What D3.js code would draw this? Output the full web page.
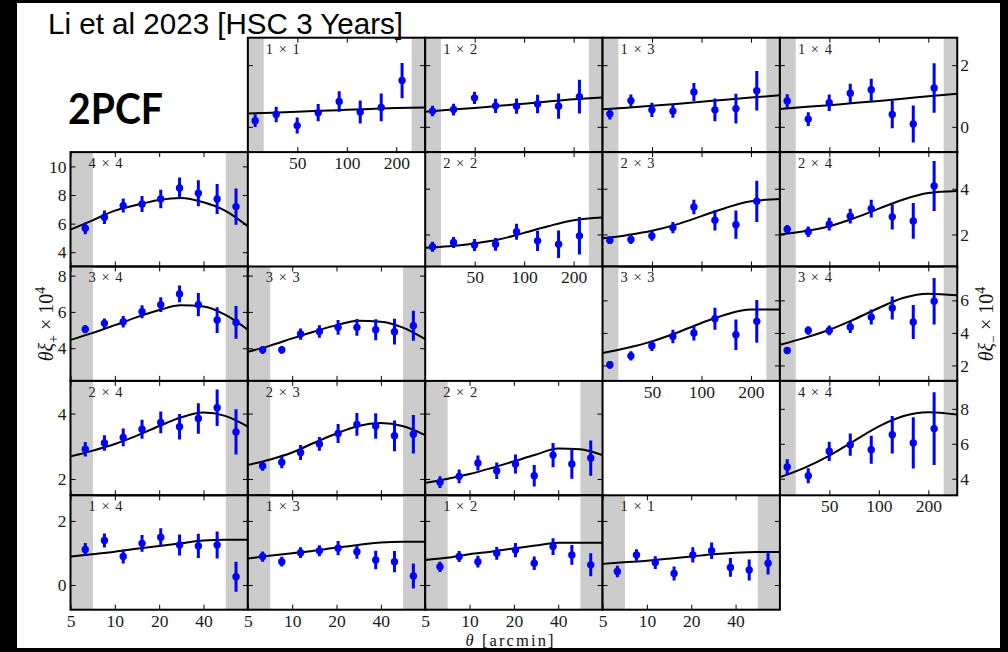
<!DOCTYPE html>
<html>
<head>
<meta charset="utf-8">
<script src="https://cdn.jsdelivr.net/npm/d3@7"></script>
<style>
  body { margin: 0; background: #fff; }
  svg { display: block; }
</style>
</head>
<body>
<svg id="chart" width="1008" height="652"></svg>
<script>
// ---- angular bins (arcmin) ----
const thetaPlus = [6.3, 8.5, 11.4, 15.3, 20.5, 27.5, 36.9, 49.5, 66.5];
const thetaMinus = [27.7, 37.2, 49.9, 67.0, 89.9, 120.7, 162, 217];
const modelThetaPlus = [5, 7, 10, 14, 20, 28, 40, 56, 80];
const modelThetaMinus = [25, 35, 50, 70, 100, 140, 200, 300];
const rangePlus = [5, 80];
const rangeMinus = [25, 300];
const cutsPlus = [7.1, 56.6];
const cutsMinus = [31.2, 248];
const xTicksPlus = [5, 10, 20, 40];
const xTicksMinus = [50, 100, 200];

// ---- y ranges per row ----
const yDomainPlus = [null, [3, 11], [2.2, 8.5], [1.5, 5], [-0.77, 2.8]];
const yTicksPlus = [null, [4, 6, 8, 10], [4, 6, 8], [2, 4], [0, 2]];
const yDomainMinus = [[-0.82, 2.89], [0.6, 5.6], [1.05, 8.08], [3.05, 9.6]];
const yTicksMinus = [[0, 2], [2, 4], [2, 4, 6], [4, 6, 8]];

// ---- theta * xi_+ * 1e4 : measurements, errors, model ----
const xip44 = [5.67, 6.44, 7.26, 7.37, 7.72, 8.49, 8.12, 7.72, 7.19];
const xip44Err = [0.41, 0.47, 0.49, 0.56, 0.64, 0.73, 0.91, 1.05, 1.27];
const xip44Model = [5.58, 6.21, 6.91, 7.30, 7.65, 7.79, 7.49, 6.91, 5.81];

const xip34 = [5.05, 5.37, 5.46, 6.01, 6.40, 6.99, 6.40, 5.55, 5.42];
const xip34Err = [0.23, 0.26, 0.32, 0.36, 0.40, 0.46, 0.64, 0.71, 0.90];
const xip34Model = [4.46, 4.83, 5.27, 5.70, 6.10, 6.36, 6.30, 5.85, 5.02];

const xip33 = [3.91, 3.91, 4.78, 4.92, 5.15, 5.15, 5.02, 4.91, 5.24];
const xip33Err = [0.21, 0.21, 0.31, 0.35, 0.41, 0.46, 0.58, 0.71, 0.83];
const xip33Model = [3.80, 4.13, 4.54, 4.91, 5.27, 5.51, 5.46, 5.15, 4.50];

const xip24 = [2.91, 3.10, 3.27, 3.52, 3.73, 3.60, 3.85, 4.18, 3.44];
const xip24Err = [0.22, 0.24, 0.27, 0.29, 0.33, 0.39, 0.47, 0.56, 0.69];
const xip24Model = [2.69, 2.86, 3.07, 3.32, 3.62, 3.88, 4.03, 3.93, 3.60];

const xip23 = [2.40, 2.51, 2.81, 3.07, 3.39, 3.67, 3.62, 3.32, 3.37];
const xip23Err = [0.15, 0.18, 0.23, 0.21, 0.29, 0.35, 0.39, 0.47, 0.59];
const xip23Model = [2.43, 2.59, 2.81, 3.10, 3.39, 3.62, 3.71, 3.62, 3.34];

const xip22 = [1.90, 2.08, 2.49, 2.25, 2.46, 2.10, 2.73, 2.46, 2.64];
const xip22Err = [0.18, 0.21, 0.23, 0.25, 0.29, 0.33, 0.37, 0.45, 0.54];
const xip22Model = [1.88, 2.00, 2.15, 2.33, 2.54, 2.74, 2.93, 2.91, 2.73];

const xip14 = [1.11, 1.39, 0.89, 1.30, 1.49, 1.25, 1.22, 1.25, 0.26];
const xip14Err = [0.20, 0.22, 0.22, 0.26, 0.28, 0.33, 0.38, 0.42, 0.47];
const xip14Model = [0.89, 0.96, 1.04, 1.13, 1.22, 1.30, 1.39, 1.41, 1.41];

const xip13 = [0.89, 0.73, 1.01, 1.07, 1.15, 1.04, 0.78, 0.73, 0.28];
const xip13Err = [0.16, 0.15, 0.17, 0.17, 0.22, 0.22, 0.29, 0.33, 0.39];
const xip13Model = [0.83, 0.91, 0.99, 1.07, 1.17, 1.25, 1.33, 1.35, 1.35];

const xip12 = [0.57, 0.89, 0.73, 0.99, 1.09, 0.68, 1.20, 0.94, 0.63];
const xip12Err = [0.16, 0.17, 0.18, 0.20, 0.22, 0.21, 0.26, 0.31, 0.36];
const xip12Model = [0.78, 0.85, 0.96, 1.04, 1.14, 1.23, 1.32, 1.32, 1.32];

const xip11 = [0.42, 0.94, 0.70, 0.36, 0.94, 1.07, 0.55, 0.47, 0.68];
const xip11Err = [0.18, 0.18, 0.20, 0.22, 0.24, 0.26, 0.29, 0.33, 0.35];
const xip11Model = [0.66, 0.71, 0.76, 0.82, 0.89, 0.96, 1.01, 1.03, 1.03];

// ---- theta * xi_- * 1e4 : measurements, errors, model ----
const xim11 = [0.20, 0.40, 0.04, 0.46, 0.82, 0.48, 0.63, 1.50];
const xim11Err = [0.21, 0.25, 0.26, 0.28, 0.33, 0.37, 0.45, 0.57];
const xim11Model = [0.43, 0.46, 0.49, 0.52, 0.55, 0.58, 0.61, 0.63];

const xim12 = [0.51, 0.56, 0.94, 0.68, 0.67, 0.74, 0.67, 0.98];
const xim12Err = [0.17, 0.19, 0.20, 0.23, 0.25, 0.30, 0.41, 0.55];
const xim12Model = [0.49, 0.55, 0.61, 0.68, 0.75, 0.82, 0.89, 0.95];

const xim13 = [0.42, 0.85, 0.55, 0.51, 1.13, 0.55, 0.59, 1.17];
const xim13Err = [0.18, 0.20, 0.23, 0.22, 0.29, 0.37, 0.48, 0.64];
const xim13Model = [0.57, 0.62, 0.68, 0.74, 0.81, 0.88, 0.95, 1.02];

const xim14 = [0.84, 0.25, 0.78, 1.09, 1.20, 0.40, 0.09, 1.26];
const xim14Err = [0.22, 0.22, 0.27, 0.31, 0.36, 0.45, 0.60, 0.80];
const xim14Model = [0.58, 0.64, 0.70, 0.77, 0.84, 0.91, 0.99, 1.07];

const xim22 = [1.46, 1.65, 1.54, 1.57, 2.12, 1.72, 1.57, 1.94];
const xim22Err = [0.22, 0.24, 0.26, 0.28, 0.35, 0.44, 0.60, 0.82];
const xim22Model = [1.42, 1.49, 1.61, 1.78, 2.07, 2.36, 2.62, 2.74];

const xim23 = [1.75, 1.78, 1.94, 2.30, 3.20, 2.62, 2.43, 3.45];
const xim23Err = [0.16, 0.20, 0.22, 0.25, 0.32, 0.45, 0.62, 0.90];
const xim23Model = [1.83, 1.97, 2.16, 2.43, 2.80, 3.16, 3.45, 3.55];

const xim24 = [2.23, 2.12, 2.45, 2.80, 3.13, 2.77, 2.59, 4.12];
const xim24Err = [0.18, 0.23, 0.28, 0.32, 0.39, 0.55, 0.78, 1.09];
const xim24Model = [2.00, 2.14, 2.36, 2.70, 3.13, 3.52, 3.81, 3.90];

const xim33 = [2.04, 2.59, 3.21, 3.78, 3.99, 4.87, 3.89, 4.71];
const xim33Err = [0.24, 0.28, 0.33, 0.41, 0.45, 0.67, 0.94, 1.31];
const xim33Model = [2.76, 3.07, 3.48, 3.99, 4.61, 5.12, 5.43, 5.43];

const xim34 = [2.92, 4.15, 4.15, 4.36, 4.97, 5.53, 4.67, 5.94];
const xim34Err = [0.20, 0.26, 0.30, 0.36, 0.46, 0.70, 1.05, 1.43];
const xim34Model = [3.27, 3.68, 4.19, 4.81, 5.53, 6.14, 6.41, 6.31];

const xim44 = [4.67, 4.17, 5.57, 5.95, 5.66, 6.52, 6.05, 6.87];
const xim44Err = [0.45, 0.43, 0.55, 0.64, 0.80, 1.07, 1.47, 2.08];
const xim44Model = [4.09, 4.61, 5.32, 6.14, 7.00, 7.58, 7.81, 7.67];

// ---- panel placement: xi_+ in the lower-left triangle, xi_- in the upper-right ----
const plusPanels = [
  { pair: "4 × 4", row: 1, col: 0, values: xip44, errors: xip44Err, model: xip44Model },
  { pair: "3 × 4", row: 2, col: 0, values: xip34, errors: xip34Err, model: xip34Model },
  { pair: "3 × 3", row: 2, col: 1, values: xip33, errors: xip33Err, model: xip33Model },
  { pair: "2 × 4", row: 3, col: 0, values: xip24, errors: xip24Err, model: xip24Model },
  { pair: "2 × 3", row: 3, col: 1, values: xip23, errors: xip23Err, model: xip23Model },
  { pair: "2 × 2", row: 3, col: 2, values: xip22, errors: xip22Err, model: xip22Model },
  { pair: "1 × 4", row: 4, col: 0, values: xip14, errors: xip14Err, model: xip14Model },
  { pair: "1 × 3", row: 4, col: 1, values: xip13, errors: xip13Err, model: xip13Model },
  { pair: "1 × 2", row: 4, col: 2, values: xip12, errors: xip12Err, model: xip12Model },
  { pair: "1 × 1", row: 4, col: 3, values: xip11, errors: xip11Err, model: xip11Model }
];
const minusPanels = [
  { pair: "1 × 1", row: 0, col: 1, values: xim11, errors: xim11Err, model: xim11Model },
  { pair: "1 × 2", row: 0, col: 2, values: xim12, errors: xim12Err, model: xim12Model },
  { pair: "1 × 3", row: 0, col: 3, values: xim13, errors: xim13Err, model: xim13Model },
  { pair: "1 × 4", row: 0, col: 4, values: xim14, errors: xim14Err, model: xim14Model },
  { pair: "2 × 2", row: 1, col: 2, values: xim22, errors: xim22Err, model: xim22Model },
  { pair: "2 × 3", row: 1, col: 3, values: xim23, errors: xim23Err, model: xim23Model },
  { pair: "2 × 4", row: 1, col: 4, values: xim24, errors: xim24Err, model: xim24Model },
  { pair: "3 × 3", row: 2, col: 3, values: xim33, errors: xim33Err, model: xim33Model },
  { pair: "3 × 4", row: 2, col: 4, values: xim34, errors: xim34Err, model: xim34Model },
  { pair: "4 × 4", row: 3, col: 4, values: xim44, errors: xim44Err, model: xim44Model }
];

// ---- layout ----
const W = 1008, H = 652;
const gridLeft = 70.5, gridTop = 37.7, cellW = 177.35, cellH = 114.4;
const serif = "'Liberation Serif', 'DejaVu Serif', serif";
const tickFont = 17.5;

const svg = d3.select("#chart");
svg.append("rect").attr("width", W).attr("height", H).attr("fill", "#fff");
const defs = svg.append("defs");

function styleAxis(sel) {
  sel.select(".domain").remove();
  sel.selectAll(".tick line").attr("stroke", "#000").attr("stroke-width", 1);
  sel.selectAll(".tick text")
    .attr("fill", "#1a1a1a")
    .attr("font-family", serif)
    .attr("font-size", tickFont);
  sel.attr("font-family", null).attr("font-size", null);
}

function drawPanel(p, i, kind) {
  const isPlus = kind === "plus";
  const x0 = gridLeft + p.col * cellW;
  const y0 = gridTop + p.row * cellH;
  const x = d3.scaleLog().domain(isPlus ? rangePlus : rangeMinus).range([x0, x0 + cellW]);
  const y = d3.scaleLinear()
    .domain(isPlus ? yDomainPlus[p.row] : yDomainMinus[p.row])
    .range([y0 + cellH, y0]);
  const theta = isPlus ? thetaPlus : thetaMinus;
  const modelTheta = isPlus ? modelThetaPlus : modelThetaMinus;
  const cuts = isPlus ? cutsPlus : cutsMinus;
  const dom = x.domain();

  const clipId = "clip-" + kind + "-" + i;
  defs.append("clipPath").attr("id", clipId)
    .append("rect").attr("x", x0).attr("y", y0).attr("width", cellW).attr("height", cellH);

  const g = svg.append("g").attr("class", "panel " + kind);
  const body = g.append("g").attr("clip-path", `url(#${clipId})`);

  // excluded scale ranges
  body.selectAll("rect.cut")
    .data([[dom[0], cuts[0]], [cuts[1], dom[1]]])
    .join("rect")
    .attr("class", "cut")
    .attr("x", d => x(d[0]))
    .attr("width", d => x(d[1]) - x(d[0]))
    .attr("y", y0)
    .attr("height", cellH)
    .attr("fill", "#cccccc");

  // best-fit model
  body.append("path")
    .datum(p.model)
    .attr("d", d3.line()
      .x((d, j) => x(modelTheta[j]))
      .y(d => y(d))
      .curve(d3.curveMonotoneX))
    .attr("fill", "none")
    .attr("stroke", "#000")
    .attr("stroke-width", 2);

  // measurements with 1-sigma errors
  const pts = p.values.map((v, j) => ({ t: theta[j], v: v, e: p.errors[j] }));
  body.selectAll("line.err")
    .data(pts)
    .join("line")
    .attr("class", "err")
    .attr("x1", d => x(d.t)).attr("x2", d => x(d.t))
    .attr("y1", d => y(d.v - d.e)).attr("y2", d => y(d.v + d.e))
    .attr("stroke", "#0000ff")
    .attr("stroke-width", 3);
  body.selectAll("circle.pt")
    .data(pts)
    .join("circle")
    .attr("class", "pt")
    .attr("cx", d => x(d.t))
    .attr("cy", d => y(d.v))
    .attr("r", 3.7)
    .attr("fill", "#0000ff");

  // axes with inward ticks
  const xt = isPlus ? xTicksPlus : xTicksMinus;
  const yt = isPlus ? yTicksPlus[p.row] : yTicksMinus[p.row];
  const showX = isPlus ? p.row === 4 : p.col === p.row + 1;
  const showLeft = isPlus && p.col === 0;
  const showRight = !isPlus && p.col === 4;
  const blank = () => "";

  g.append("g").attr("transform", `translate(0,${y0 + cellH})`)
    .call(d3.axisBottom(x).tickValues(xt).tickSizeInner(-5).tickSizeOuter(0)
      .tickPadding(4.5).tickFormat(showX ? d3.format("d") : blank))
    .call(styleAxis);
  g.append("g").attr("transform", `translate(0,${y0})`)
    .call(d3.axisTop(x).tickValues(xt).tickSizeInner(-5).tickSizeOuter(0).tickFormat(blank))
    .call(styleAxis);
  g.append("g").attr("transform", `translate(${x0},0)`)
    .call(d3.axisLeft(y).tickValues(yt).tickSizeInner(-5).tickSizeOuter(0)
      .tickPadding(4).tickFormat(showLeft ? d3.format("d") : blank))
    .call(styleAxis);
  g.append("g").attr("transform", `translate(${x0 + cellW},0)`)
    .call(d3.axisRight(y).tickValues(yt).tickSizeInner(-5).tickSizeOuter(0)
      .tickPadding(3).tickFormat(showRight ? d3.format("d") : blank))
    .call(styleAxis);

  // frame
  g.append("rect")
    .attr("x", x0).attr("y", y0).attr("width", cellW).attr("height", cellH)
    .attr("fill", "none").attr("stroke", "#000").attr("stroke-width", 2);

  // tomographic bin pair
  g.append("text")
    .attr("x", x0 + 18).attr("y", y0 + 15.8)
    .attr("font-family", serif).attr("font-size", 14.5)
    .attr("fill", "#222")
    .attr("textLength", 34).attr("lengthAdjust", "spacing")
    .text(p.pair);
}

plusPanels.forEach((p, i) => drawPanel(p, i, "plus"));
minusPanels.forEach((p, i) => drawPanel(p, i, "minus"));

// axis titles
function mathLabel(sel, sign) {
  sel.append("tspan").attr("font-style", "italic").text("θξ");
  sel.append("tspan").attr("font-size", 14).attr("dy", 5).text(sign);
  sel.append("tspan").attr("dy", -5).text(" × 10");
  sel.append("tspan").attr("font-size", 14).attr("dy", -8).text("4");
}
const yLeft = svg.append("text")
  .attr("transform", "translate(53,324) rotate(-90)")
  .attr("text-anchor", "middle")
  .attr("font-family", serif).attr("font-size", 20).attr("fill", "#111");
mathLabel(yLeft, "+");
const yRight = svg.append("text")
  .attr("transform", "translate(993,324) rotate(-90)")
  .attr("text-anchor", "middle")
  .attr("font-family", serif).attr("font-size", 20).attr("fill", "#111");
mathLabel(yRight, "−");

const xLabel = svg.append("text")
  .attr("x", 509.5).attr("y", 646)
  .attr("text-anchor", "middle")
  .attr("font-family", serif).attr("font-size", 16.5).attr("fill", "#111")
  .attr("textLength", 88).attr("lengthAdjust", "spacing");
xLabel.append("tspan").attr("font-style", "italic").text("θ");
xLabel.append("tspan").text(" [arcmin]");

// headings
svg.append("text")
  .attr("x", 48).attr("y", 33.5)
  .attr("font-family", "'Liberation Sans', Arial, sans-serif")
  .attr("font-size", 29).attr("fill", "#000")
  .attr("textLength", 355).attr("lengthAdjust", "spacingAndGlyphs")
  .text("Li et al 2023 [HSC 3 Years]");
svg.append("text")
  .attr("x", 68).attr("y", 124)
  .attr("font-family", "Lato, 'Open Sans', sans-serif")
  .attr("font-weight", 700)
  .attr("font-size", 42).attr("fill", "#000")
  .attr("textLength", 95).attr("lengthAdjust", "spacingAndGlyphs")
  .text("2PCF");

// slide frame
const frame = [[0, 0, 17, H], [0, 0, W, 3], [1000, 0, 8, H], [0, 648, W, 4]];
svg.selectAll("rect.frame")
  .data(frame)
  .join("rect")
  .attr("class", "frame")
  .attr("x", d => d[0]).attr("y", d => d[1])
  .attr("width", d => d[2]).attr("height", d => d[3])
  .attr("fill", "#000");
</script>
</body>
</html>
